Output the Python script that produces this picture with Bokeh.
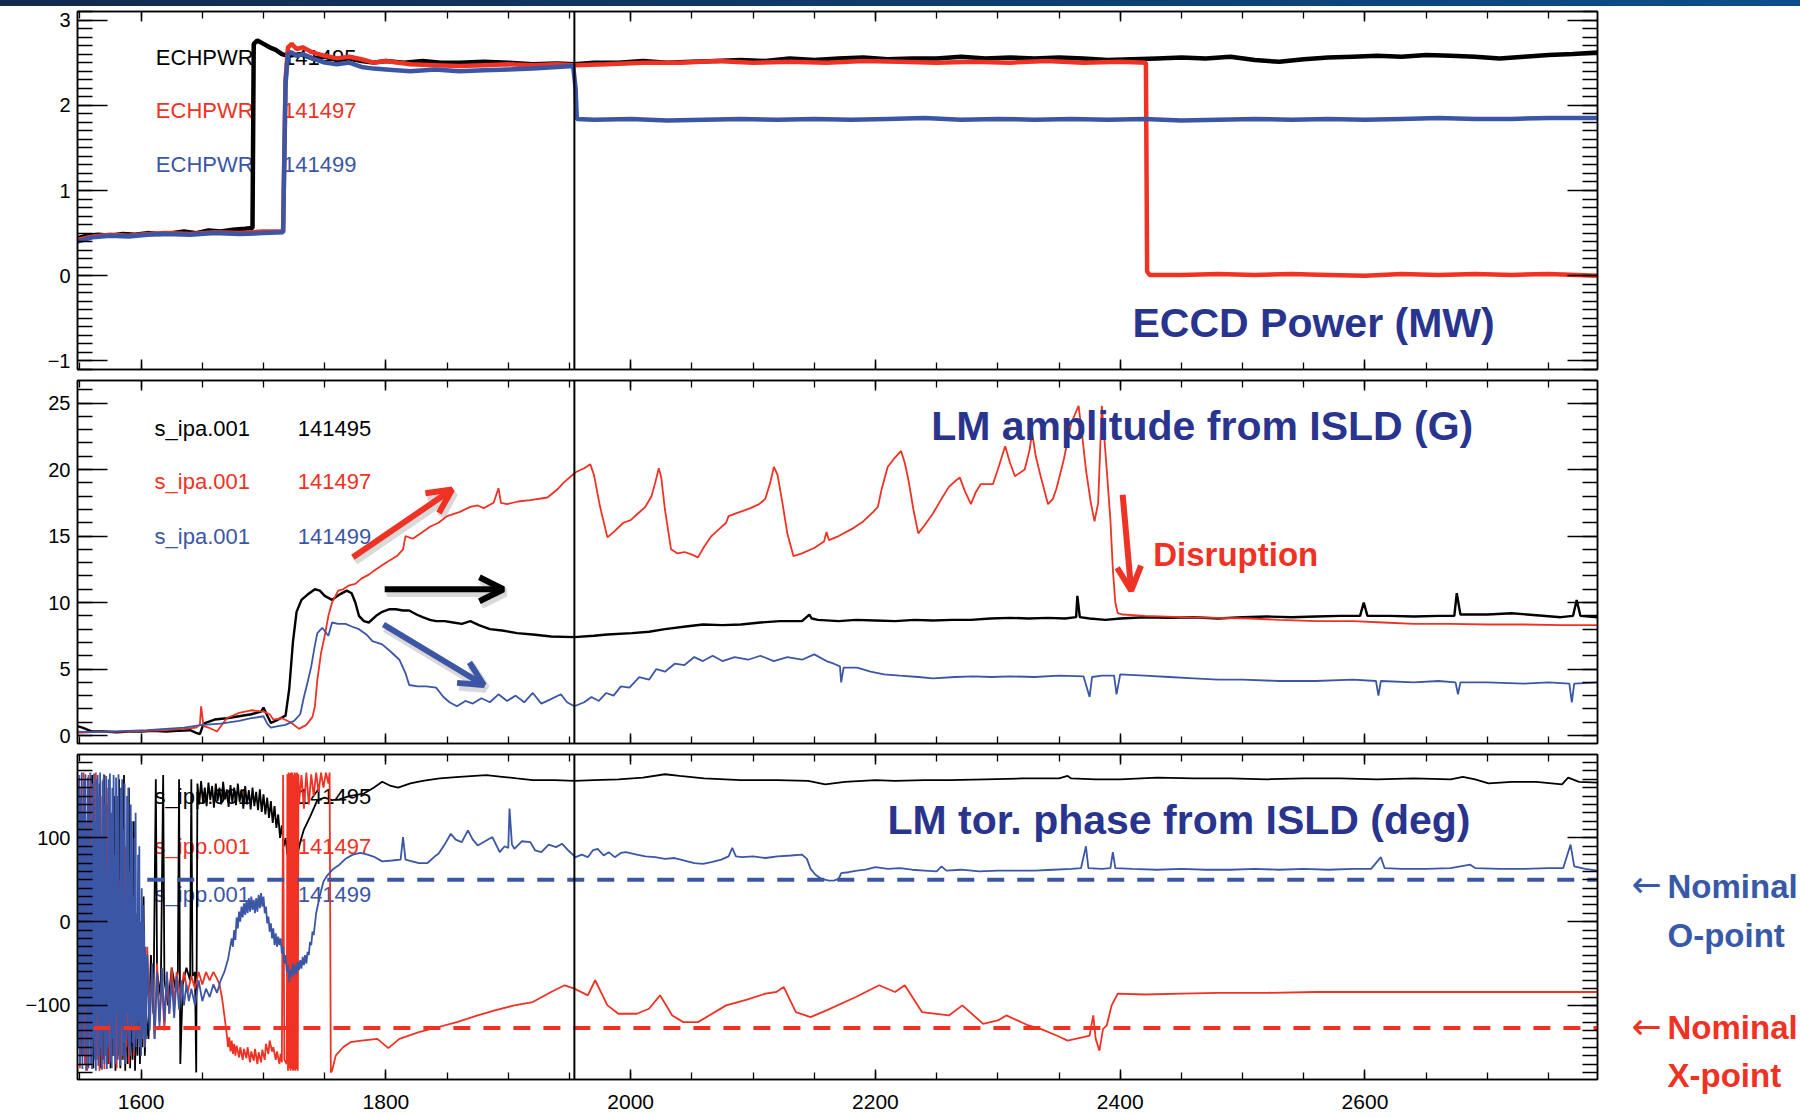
from bokeh.plotting import figure
from bokeh.models import (Range1d, LinearAxis, SingleIntervalTicker, Span, Label,
                          Arrow, OpenHead, ColumnDataSource, Div)
from bokeh.layouts import column, row
from bokeh.embed import file_html
from bokeh.resources import INLINE
from bokeh.core.properties import value

# ---------------------------------------------------------------- data
T_RANGE = (1548, 2790)          # time window (ms)
T_MARK = 1954                   # marker drawn across all panels
SHOTS = ["141495", "141497", "141499"]

# ECCD power (MW)
pwr_141495 = [(1548, 0.44), (1556, 0.47), (1565, 0.48), (1575, 0.47), (1585, 0.49), (1595, 0.48),
              (1605, 0.50), (1615, 0.49), (1625, 0.50), (1635, 0.52), (1645, 0.50), (1655, 0.53),
              (1665, 0.52), (1675, 0.54), (1685, 0.55), (1691, 0.56), (1692, 2.72), (1695, 2.76),
              (1700, 2.72), (1705, 2.68), (1710, 2.65), (1715, 2.60), (1720, 2.58), (1730, 2.60),
              (1740, 2.55), (1750, 2.57), (1760, 2.53), (1770, 2.55), (1780, 2.52), (1790, 2.50),
              (1800, 2.52), (1815, 2.50), (1830, 2.52), (1845, 2.50), (1860, 2.50), (1880, 2.51),
              (1900, 2.50), (1920, 2.48), (1940, 2.49), (1954, 2.48), (1970, 2.50), (1990, 2.50),
              (2010, 2.52), (2030, 2.50), (2050, 2.51), (2070, 2.52), (2090, 2.53), (2110, 2.52),
              (2130, 2.55), (2150, 2.53), (2170, 2.55), (2190, 2.56), (2210, 2.54), (2230, 2.55),
              (2250, 2.55), (2270, 2.57), (2290, 2.55), (2310, 2.56), (2330, 2.55), (2350, 2.56),
              (2370, 2.55), (2390, 2.53), (2410, 2.54), (2430, 2.55), (2450, 2.56), (2470, 2.55),
              (2490, 2.57), (2510, 2.53), (2530, 2.51), (2550, 2.54), (2570, 2.56), (2590, 2.57),
              (2610, 2.58), (2630, 2.57), (2650, 2.59), (2670, 2.58), (2690, 2.57), (2710, 2.55),
              (2730, 2.57), (2750, 2.59), (2770, 2.60), (2790, 2.62)]
pwr_141497 = [(1548, 0.42), (1560, 0.46), (1575, 0.48), (1590, 0.47), (1605, 0.49), (1620, 0.50),
              (1640, 0.49), (1660, 0.51), (1680, 0.50), (1700, 0.52), (1716, 0.52), (1718, 2.30),
              (1720, 2.68), (1723, 2.72), (1727, 2.66), (1732, 2.68), (1740, 2.62), (1750, 2.58),
              (1760, 2.55), (1770, 2.57), (1780, 2.54), (1790, 2.50), (1800, 2.52), (1820, 2.48),
              (1840, 2.47), (1860, 2.46), (1880, 2.47), (1900, 2.48), (1920, 2.47), (1940, 2.48),
              (1954, 2.47), (1980, 2.48), (2010, 2.50), (2040, 2.50), (2070, 2.52), (2100, 2.50),
              (2130, 2.51), (2160, 2.50), (2190, 2.52), (2220, 2.51), (2250, 2.50), (2280, 2.51),
              (2310, 2.50), (2340, 2.52), (2370, 2.50), (2400, 2.51), (2421, 2.50), (2422, 0.05),
              (2424, 0.01), (2450, 0.01), (2480, 0.02), (2510, 0.01), (2540, 0.02), (2570, 0.01),
              (2600, 0.00), (2630, 0.02), (2660, 0.01), (2690, 0.02), (2720, 0.01), (2750, 0.02),
              (2790, 0.00)]
pwr_141499 = [(1548, 0.40), (1560, 0.45), (1575, 0.47), (1590, 0.46), (1605, 0.48), (1620, 0.49),
              (1640, 0.48), (1660, 0.50), (1680, 0.49), (1700, 0.50), (1716, 0.51), (1718, 2.25),
              (1720, 2.60), (1723, 2.62), (1727, 2.58), (1732, 2.60), (1740, 2.55), (1750, 2.50),
              (1760, 2.48), (1770, 2.50), (1780, 2.45), (1790, 2.43), (1800, 2.42), (1820, 2.40),
              (1840, 2.42), (1860, 2.40), (1880, 2.41), (1900, 2.42), (1920, 2.43), (1940, 2.45),
              (1953, 2.46), (1955, 2.20), (1956, 1.84), (1970, 1.83), (2000, 1.84), (2030, 1.82),
              (2060, 1.83), (2090, 1.84), (2120, 1.83), (2150, 1.84), (2180, 1.83), (2210, 1.84),
              (2240, 1.85), (2270, 1.83), (2300, 1.84), (2330, 1.83), (2360, 1.84), (2390, 1.83),
              (2420, 1.84), (2450, 1.82), (2480, 1.83), (2510, 1.84), (2540, 1.83), (2570, 1.84),
              (2600, 1.83), (2630, 1.84), (2660, 1.85), (2690, 1.84), (2720, 1.84), (2750, 1.85),
              (2790, 1.85)]

# locked-mode amplitude from ISLD (G)
amp_141495 = [(1548, 0.7), (1552, 0.6), (1560, 0.3), (1570, 0.3), (1580, 0.25), (1590, 0.3), (1600, 0.3),
              (1610, 0.35), (1620, 0.3), (1630, 0.35), (1640, 0.4), (1645, 0.2), (1648, 0.1), (1651, 0.9),
              (1660, 1.2), (1670, 1.3), (1680, 1.45), (1690, 1.6), (1698, 1.8), (1700, 2.1), (1703, 1.5),
              (1706, 0.95), (1712, 1.2), (1718, 1.5), (1721, 3.5), (1724, 7.0), (1727, 9.3), (1731, 10.2),
              (1736, 10.6), (1742, 11.0), (1746, 10.9), (1750, 10.5), (1756, 10.2), (1762, 10.6),
              (1768, 10.9), (1772, 10.7), (1775, 10.0), (1778, 9.0), (1782, 8.6), (1786, 8.5), (1792, 9.0),
              (1797, 9.3), (1803, 9.5), (1808, 9.5), (1814, 9.4), (1819, 9.4), (1825, 9.1), (1830, 8.9),
              (1836, 8.7), (1841, 8.6), (1848, 8.6), (1855, 8.5), (1862, 8.4), (1869, 8.6), (1876, 8.3),
              (1885, 8.0), (1895, 7.9), (1907, 7.7), (1920, 7.6), (1935, 7.45), (1954, 7.4), (1970, 7.5),
              (1981, 7.6), (2001, 7.7), (2015, 7.8), (2028, 8.0), (2045, 8.2), (2059, 8.35), (2075, 8.3),
              (2090, 8.35), (2106, 8.5), (2122, 8.6), (2140, 8.6), (2146, 9.1), (2148, 8.8), (2153, 8.7),
              (2170, 8.6), (2184, 8.7), (2200, 8.65), (2216, 8.6), (2232, 8.7), (2247, 8.65), (2263, 8.7),
              (2278, 8.7), (2294, 8.8), (2310, 8.85), (2325, 8.8), (2341, 8.85), (2355, 8.8), (2364, 8.9),
              (2365, 10.5), (2367, 8.9), (2375, 8.8), (2388, 8.7), (2400, 8.8), (2420, 8.9), (2440, 8.85),
              (2460, 8.9), (2480, 8.8), (2500, 8.9), (2520, 8.95), (2540, 8.9), (2560, 8.95), (2580, 9.0),
              (2596, 9.0), (2599, 10.0), (2602, 9.0), (2620, 9.0), (2640, 8.95), (2660, 9.0), (2673, 9.0),
              (2675, 10.7), (2678, 9.1), (2700, 9.1), (2720, 9.2), (2740, 9.05), (2760, 8.9), (2770, 9.0),
              (2773, 10.2), (2776, 9.0), (2790, 8.9)]
amp_141497 = [(1548, 0.2), (1560, 0.25), (1575, 0.3), (1590, 0.3), (1605, 0.35), (1620, 0.4), (1635, 0.5),
              (1645, 0.6), (1648, 0.8), (1649, 2.2), (1651, 0.7), (1655, 0.6), (1662, 0.3), (1670, 1.3),
              (1680, 1.7), (1690, 1.9), (1700, 1.8), (1705, 1.6), (1708, 1.2), (1715, 1.3), (1722, 1.0),
              (1729, 0.5), (1735, 0.8), (1740, 1.4), (1742, 2.2), (1744, 4.2), (1747, 6.2), (1750, 7.5),
              (1753, 9.0), (1756, 10.0), (1761, 10.9), (1765, 11.0), (1770, 11.3), (1775, 11.4),
              (1780, 11.8), (1786, 12.1), (1792, 12.5), (1800, 13.0), (1809, 13.5), (1814, 14.0),
              (1816, 15.0), (1822, 14.8), (1830, 15.3), (1836, 15.7), (1843, 16.0), (1850, 16.5),
              (1860, 16.8), (1869, 17.2), (1875, 17.3), (1880, 17.1), (1888, 17.5), (1892, 18.6),
              (1894, 17.5), (1899, 17.4), (1908, 17.6), (1918, 17.7), (1932, 17.9), (1940, 18.5),
              (1945, 19.0), (1955, 19.8), (1962, 20.1), (1967, 20.4), (1970, 19.6), (1975, 17.2),
              (1981, 14.9), (1986, 15.3), (1994, 16.0), (2000, 16.2), (2006, 16.7), (2012, 17.2),
              (2017, 18.0), (2020, 19.0), (2023, 20.1), (2025, 19.4), (2028, 17.0), (2033, 14.0),
              (2038, 13.7), (2044, 13.8), (2050, 13.6), (2055, 13.4), (2060, 14.2), (2066, 15.0),
              (2072, 15.5), (2078, 16.0), (2080, 16.5), (2086, 16.7), (2098, 17.1), (2105, 17.4),
              (2110, 17.8), (2114, 19.0), (2117, 20.2), (2120, 19.6), (2124, 17.5), (2128, 15.2),
              (2133, 13.5), (2140, 13.7), (2150, 14.1), (2158, 14.6), (2160, 15.3), (2162, 14.7),
              (2170, 15.0), (2182, 15.6), (2190, 16.1), (2198, 16.8), (2202, 17.2), (2205, 18.5),
              (2210, 20.2), (2215, 20.8), (2221, 21.4), (2224, 20.5), (2227, 19.2), (2231, 17.0),
              (2235, 15.2), (2240, 15.8), (2247, 16.7), (2254, 17.8), (2260, 18.7), (2266, 19.2),
              (2269, 19.4), (2273, 18.4), (2278, 17.4), (2282, 18.3), (2286, 18.9), (2296, 18.9),
              (2300, 20.0), (2306, 21.75), (2310, 20.5), (2314, 19.5), (2322, 20.0), (2326, 21.5),
              (2328, 22.8), (2331, 21.0), (2335, 19.5), (2341, 17.4), (2345, 17.8), (2348, 18.6),
              (2354, 20.8), (2360, 23.5), (2366, 24.8), (2369, 22.5), (2372, 20.0), (2376, 17.5),
              (2379, 16.1), (2382, 17.5), (2385, 24.8), (2389, 20.0), (2392, 16.2), (2394, 12.5),
              (2396, 10.0), (2398, 9.2), (2402, 9.1), (2420, 9.0), (2450, 8.9), (2480, 8.85),
              (2506, 8.8), (2530, 8.7), (2560, 8.6), (2590, 8.6), (2615, 8.5), (2640, 8.4), (2670, 8.4),
              (2700, 8.35), (2730, 8.35), (2760, 8.3), (2790, 8.3)]
amp_141499 = [(1548, 0.3), (1560, 0.25), (1575, 0.3), (1590, 0.35), (1605, 0.4), (1620, 0.5), (1635, 0.6),
              (1650, 0.8), (1665, 0.9), (1680, 1.1), (1690, 1.3), (1700, 1.45), (1703, 0.9), (1706, 0.6),
              (1712, 0.7), (1718, 0.8), (1725, 1.1), (1730, 1.6), (1733, 2.9), (1736, 4.0), (1739, 5.2),
              (1742, 6.8), (1744, 7.7), (1748, 8.1), (1753, 7.5), (1756, 8.5), (1761, 8.4), (1767, 8.4),
              (1772, 8.2), (1778, 8.0), (1784, 7.6), (1789, 7.1), (1797, 6.85), (1804, 6.3), (1811, 5.7),
              (1816, 4.7), (1819, 3.8), (1826, 3.7), (1833, 3.7), (1841, 3.6), (1847, 2.9), (1852, 2.5),
              (1858, 2.2), (1865, 2.6), (1871, 2.4), (1878, 2.8), (1885, 2.5), (1892, 3.1), (1899, 2.6),
              (1906, 3.0), (1913, 2.5), (1920, 3.2), (1927, 2.4), (1934, 2.7), (1943, 3.1), (1948, 2.5),
              (1954, 2.2), (1962, 2.5), (1968, 2.9), (1974, 2.6), (1980, 3.2), (1986, 3.0), (1992, 3.7),
              (1999, 3.6), (2007, 4.4), (2015, 4.2), (2021, 5.0), (2028, 4.8), (2036, 5.4), (2044, 5.3),
              (2052, 5.9), (2059, 5.6), (2067, 6.0), (2075, 5.6), (2085, 5.9), (2096, 5.7), (2106, 6.0),
              (2117, 5.6), (2128, 5.9), (2140, 5.7), (2150, 6.1), (2160, 5.6), (2166, 5.4), (2171, 5.2),
              (2172, 4.0), (2174, 5.1), (2185, 5.1), (2196, 4.8), (2207, 4.6), (2220, 4.5), (2235, 4.4),
              (2247, 4.3), (2265, 4.4), (2280, 4.45), (2295, 4.4), (2310, 4.45), (2330, 4.4), (2350, 4.5),
              (2370, 4.45), (2375, 2.9), (2377, 4.4), (2385, 4.5), (2395, 4.5), (2397, 3.1), (2400, 4.6),
              (2420, 4.5), (2440, 4.4), (2460, 4.3), (2480, 4.2), (2500, 4.2), (2530, 4.1), (2560, 4.1),
              (2590, 4.2), (2609, 4.1), (2611, 3.0), (2613, 4.1), (2640, 4.0), (2660, 4.1), (2674, 4.0),
              (2676, 3.1), (2678, 4.0), (2700, 4.0), (2730, 3.9), (2750, 4.0), (2767, 3.9), (2769, 2.5),
              (2771, 3.9), (2790, 4.0)]

# locked-mode toroidal phase from ISLD (deg)
phase_141495 = [(1548, 40), (1549, -100), (1550, 150), (1551, -160), (1552, 120), (1553, -60), (1554, 170),
                (1555, -150), (1556, 100), (1557, -170), (1558, 160), (1559, -100), (1560, 175), (1561, -175),
                (1562, 120), (1563, -160), (1564, 170), (1565, -130), (1566, 165), (1567, -175), (1568, 90),
                (1569, -165), (1570, 175), (1571, -150), (1572, 140), (1573, -170), (1574, 110), (1575, -175),
                (1576, 60), (1577, -160), (1578, 150), (1579, -178), (1580, 30), (1581, -160), (1582, 170),
                (1583, -175), (1584, -20), (1585, -165), (1586, 175), (1587, -178), (1588, -60), (1589, -170),
                (1590, 160), (1591, -175), (1592, -80), (1593, -165), (1594, 120), (1595, -178), (1596, -90),
                (1597, -160), (1598, 60), (1599, -170), (1600, -100), (1601, -150), (1602, 30), (1603, -160),
                (1604, -110), (1606, -140), (1608, -40), (1610, -110), (1612, 170), (1613, -60), (1616, -90),
                (1618, 175), (1619, -70), (1622, -100), (1625, -55), (1628, -80), (1630, -60), (1631, 170),
                (1632, -170), (1634, -75), (1637, -55), (1640, -70), (1641, 170), (1642, -65), (1644, -60),
                (1645, -180), (1646, 165), (1647.5, 140), (1649, 168), (1650.5, 142), (1652, 160),
                (1653.5, 138), (1655, 166), (1656.5, 145), (1658, 162), (1659.5, 136), (1661, 165),
                (1662.5, 144), (1664, 160), (1665.5, 140), (1667, 167), (1668.5, 146), (1670, 158),
                (1671.5, 137), (1673, 163), (1674.5, 142), (1676, 160), (1677.5, 139), (1679, 165),
                (1680.5, 143), (1682, 158), (1683.5, 135), (1685, 162), (1686.5, 140), (1688, 157),
                (1689.5, 134), (1691, 160), (1692.5, 138), (1694, 155), (1695.5, 133), (1697, 158),
                (1698.5, 131), (1700, 152), (1701.5, 128), (1703, 148), (1704.5, 124), (1706, 144),
                (1707.5, 118), (1709, 138), (1710.5, 112), (1712, 128), (1713.5, 100), (1715, 115),
                (1716.5, 90), (1718, 100), (1719.5, 80), (1721, 88), (1722.5, 65), (1724, 70), (1725.5, 49),
                (1727, 75), (1730, 95), (1733, 110), (1738, 125), (1744, 145), (1750, 148),
                (1756, 145), (1762, 146), (1770, 150), (1782, 153), (1790, 160), (1797, 167), (1804, 162),
                (1810, 160), (1820, 165), (1830, 168), (1844, 171), (1860, 173), (1882, 175), (1895, 173),
                (1907, 171), (1920, 169), (1938, 169), (1954, 168), (1970, 169), (1990, 170), (2010, 172),
                (2028, 176), (2040, 174), (2060, 171), (2090, 169), (2120, 169), (2145, 168), (2159, 164),
                (2175, 167), (2200, 169), (2216, 168), (2240, 169), (2260, 169), (2290, 170), (2320, 171),
                (2350, 171), (2357, 174), (2360, 171), (2380, 170), (2400, 170), (2430, 172), (2460, 171),
                (2490, 171), (2520, 170), (2550, 171), (2580, 171), (2610, 170), (2640, 171), (2670, 170),
                (2680, 173), (2690, 170), (2701, 165), (2720, 167), (2740, 167), (2761, 164), (2766, 172),
                (2775, 167), (2790, 166)]
phase_141497 = [(1548, -20), (1549, 170), (1550, -175), (1551, 160), (1552, -160), (1553, 178), (1554, -170),
                (1555, 120), (1556, -178), (1557, 175), (1558, -140), (1559, 165), (1560, -176), (1561, 140),
                (1562, -150), (1563, 178), (1564, -165), (1565, 100), (1566, -178), (1567, 150), (1568, -120),
                (1569, 170), (1570, -176), (1571, 60), (1572, -150), (1573, 160), (1574, -170), (1575, 90),
                (1576, -130), (1577, 120), (1578, -160), (1579, 30), (1580, -175), (1581, 110), (1582, -140),
                (1583, 50), (1584, -165), (1585, 20), (1586, -120), (1587, 90), (1588, -150), (1589, -10),
                (1590, -170), (1591, 40), (1592, -130), (1593, -20), (1594, -160), (1595, 10), (1596, -140),
                (1597, -30), (1598, -120), (1599, -40), (1600, -150), (1601, -40), (1603, -150), (1605, -30),
                (1607, -110), (1609, -60), (1611, -140), (1613, -50), (1615, -120), (1617, -70), (1619, -130),
                (1621, -60), (1623, -110), (1625, -55), (1627, -100), (1629, -60), (1632, -90), (1635, -60),
                (1638, -85), (1641, -65), (1644, -80), (1647, -60), (1650, -75), (1653, -60), (1656, -70),
                (1659, -60), (1662, -68), (1664, -75), (1666, -90), (1668, -112), (1670, -135), (1671, -150),
                (1672, -138), (1673, -155), (1674, -142), (1675, -158), (1676, -146), (1677, -160),
                (1678, -148), (1680, -162), (1681, -150), (1683, -165), (1684, -152), (1686, -163),
                (1687, -150), (1689, -168), (1690, -155), (1692, -166), (1693, -152), (1695, -170),
                (1696, -156), (1698, -168), (1699, -153), (1701, -165), (1702, -146), (1704, -158),
                (1705, -142), (1707, -155), (1708, -150), (1710, -165), (1711, -155), (1713, -170),
                (1714, -158), (1715, -168), (1716, 175), (1717, -165),
                (1719, -170), (1719.5, 176), (1720, -178), (1720.5, 178), (1721, -175), (1721.5, 177),
                (1722, -178), (1722.5, 178), (1723, -176), (1723.5, 178), (1724, -178), (1724.5, 175),
                (1725, -177), (1725.5, 178), (1726, -178), (1726.5, 177), (1727, -176), (1727.5, 178),
                (1728, -178), (1728.5, 176), (1729, 140), (1731, 175), (1733, 135), (1735, 178), (1737, 140),
                (1739, 176), (1741, 150), (1743, 178), (1745, 155), (1747, 178), (1749, 160), (1751, 178),
                (1753, 165), (1754, 178), (1755, -180), (1756, -178), (1759, -160), (1765, -150),
                (1771, -144), (1780, -142), (1793, -140), (1802, -151), (1811, -140), (1827, -132),
                (1840, -127), (1858, -120), (1875, -112), (1889, -106), (1905, -100), (1920, -96),
                (1935, -84), (1946, -76), (1954, -80), (1965, -88), (1971, -70), (1981, -100), (1990, -110),
                (2005, -110), (2015, -104), (2024, -88), (2034, -112), (2043, -120), (2055, -120),
                (2078, -100), (2095, -93), (2110, -86), (2119, -84), (2125, -78), (2135, -108), (2147, -114),
                (2160, -106), (2184, -90), (2203, -76), (2216, -84), (2224, -76), (2238, -108), (2260, -112),
                (2271, -100), (2288, -122), (2300, -118), (2307, -112), (2325, -124), (2335, -128),
                (2348, -136), (2357, -142), (2370, -138), (2375, -136), (2378, -112), (2380, -140),
                (2383, -154), (2386, -128), (2389, -124), (2393, -100), (2398, -86), (2420, -87),
                (2450, -86), (2480, -85), (2520, -85), (2560, -84), (2600, -84), (2640, -84), (2680, -84),
                (2720, -84), (2760, -84), (2790, -84)]
phase_141499 = [(1548, -60), (1548.5, 160), (1549, -150), (1549.5, 175), (1550, -170), (1550.5, 150),
                (1551, -120), (1551.5, 178), (1552, -176), (1552.5, 130), (1553, -160), (1553.5, 170),
                (1554, -100), (1554.5, 176), (1555, -178), (1555.5, 110), (1556, -150), (1556.5, 172),
                (1557, -175), (1557.5, 140), (1558, -130), (1558.5, 178), (1559, -170), (1559.5, 90),
                (1560, -176), (1560.5, 165), (1561, -140), (1561.5, 177), (1562, -165), (1562.5, 120),
                (1563, -178), (1563.5, 170), (1564, -110), (1564.5, 175), (1565, -172), (1565.5, 150),
                (1566, -160), (1566.5, 178), (1567, -150), (1567.5, 100), (1568, -177), (1568.5, 168),
                (1569, -130), (1569.5, 176), (1570, -170), (1570.5, 140), (1571, -160), (1571.5, 174),
                (1572, -176), (1572.5, 60), (1573, -150), (1573.5, 170), (1574, -120), (1574.5, 177),
                (1575, -168), (1575.5, 130), (1576, -175), (1576.5, 160), (1577, -140), (1577.5, 175),
                (1578, -160), (1578.5, 80), (1579, -170), (1579.5, 172), (1580, -110), (1580.5, 150),
                (1581, -165), (1581.5, 176), (1582, -150), (1582.5, 40), (1583, -172), (1583.5, 160),
                (1584, -125), (1584.5, 170), (1585, -160), (1585.5, 110), (1586, -145), (1586.5, 165),
                (1587, -170), (1587.5, 20), (1588, -140), (1588.5, 150), (1589, -110), (1589.5, 160),
                (1590, -150), (1590.5, 60), (1591, -160), (1591.5, 140), (1592, -120), (1592.5, 120),
                (1593, -145), (1593.5, 30), (1594, -155), (1594.5, 100), (1595, -130), (1595.5, 130),
                (1596, -150), (1596.5, 10), (1597, -140), (1597.5, 80), (1598, -120), (1598.5, 90),
                (1599, -150), (1599.5, 0), (1600, -160), (1600.5, 40), (1601, -140), (1601.5, 20),
                (1602, -130), (1602.5, -10), (1603, -150), (1603.5, -30), (1604, -140), (1605, -40),
                (1607, -130), (1609, -50), (1611, -140), (1613, -60), (1615, -125), (1617, -55), (1619, -120),
                (1621, -60), (1623, -110), (1625, -70), (1627, -115), (1629, -65), (1631, -105), (1633, -70),
                (1635, -100), (1637, -75), (1639, -95), (1641, -80), (1644, -100), (1647, -70), (1650, -95),
                (1653, -80), (1656, -90), (1659, -75), (1662, -85), (1665, -70), (1668, -60), (1671, -45),
                (1674, -20), (1675, -30), (1676, -10), (1677, -22), (1678, 5), (1679, -8), (1680, 12),
                (1681, 0), (1682, 18), (1683, 5), (1684, 22), (1685, 8), (1686, 25), (1687, 10), (1688, 28),
                (1689, 12), (1690, 30), (1691, 14), (1692, 26), (1693, 10), (1694, 28), (1695, 12),
                (1696, 32), (1697, 16), (1698, 34), (1699, 18), (1700, 30), (1701, 10), (1702, 18),
                (1703, -2), (1704, 6), (1705, -12), (1706, -2), (1707, -20), (1708, -8), (1709, -28),
                (1710, -14), (1711, -30), (1712, -18), (1713, -28), (1714, -20), (1715, -38), (1716, -30),
                (1717, -50), (1718, -40), (1719, -60), (1720, -52), (1721, -72), (1722, -58), (1723, -66),
                (1724, -50), (1725, -64), (1726, -52), (1727, -62), (1728, -48), (1729, -58), (1730, -46),
                (1731, -56), (1732, -42), (1733, -52), (1734, -40), (1735, -50), (1736, -36), (1737, -40),
                (1738, -24), (1739, -28), (1740, -12), (1741, -16), (1743, 10), (1746, 31), (1749, 48),
                (1752, 55), (1757, 63), (1762, 68),
                (1767, 75), (1773, 80), (1779, 82), (1785, 80), (1791, 77), (1797, 72), (1805, 73),
                (1812, 74), (1814, 101), (1816, 74), (1819, 73), (1827, 70), (1834, 70), (1840, 78),
                (1843, 81), (1848, 92), (1853, 105), (1857, 98), (1862, 95), (1867, 109), (1871, 98),
                (1875, 91), (1881, 96), (1887, 101), (1893, 83), (1897, 90), (1900, 88), (1901, 135),
                (1903, 92), (1905, 87), (1911, 96), (1918, 95), (1922, 85), (1927, 83), (1933, 92),
                (1939, 89), (1944, 93), (1949, 85), (1955, 77), (1960, 80), (1965, 77), (1969, 85),
                (1973, 87), (1978, 79), (1982, 83), (1987, 77), (1992, 82), (1996, 83), (2005, 80),
                (2012, 78), (2020, 77), (2028, 75), (2036, 76), (2044, 73), (2052, 70), (2059, 69),
                (2066, 71), (2074, 74), (2080, 78), (2083, 88), (2086, 78), (2091, 77), (2100, 78),
                (2110, 76), (2120, 78), (2131, 79), (2140, 80), (2144, 75), (2147, 63), (2151, 56),
                (2156, 51), (2162, 49), (2166, 49), (2170, 51), (2172, 58), (2178, 59), (2185, 61),
                (2192, 62), (2200, 65), (2210, 63), (2220, 64), (2230, 62), (2240, 61), (2250, 60),
                (2254, 66), (2258, 61), (2270, 62), (2285, 60), (2300, 61), (2315, 61), (2330, 61),
                (2345, 62), (2360, 63), (2368, 64), (2372, 90), (2374, 64), (2385, 63), (2392, 64),
                (2394, 83), (2396, 64), (2410, 63), (2430, 62), (2450, 63), (2470, 62), (2490, 62),
                (2510, 63), (2530, 62), (2550, 63), (2570, 62), (2590, 63), (2605, 63), (2613, 77),
                (2616, 64), (2630, 63), (2650, 63), (2670, 64), (2686, 68), (2690, 64), (2710, 63),
                (2730, 63), (2750, 64), (2762, 64), (2768, 92), (2771, 66), (2780, 63), (2790, 61)]

# nominal island O-point / X-point phases (deg) and where their guide lines start
NOMINAL_O, NOMINAL_O_FROM = 50, 1605
NOMINAL_X, NOMINAL_X_FROM = -127, 1561

# ---------------------------------------------------------------- style
BLACK, RED, BLUE = "#000000", "#ef3224", "#3c56a6"
SHOT_COLORS = [BLACK, RED, BLUE]
NAVY = "#29348e"
NOTE_BLUE = "#3759a8"
IDL_FONT = "Liberation Sans"
BOLD_FONT = "Liberation Sans"
FRAME_W = 1520


def unzip(pairs):
    return [p[0] for p in pairs], [p[1] for p in pairs]


def panel(y0, y1, frame_h, border_top, border_bottom, y_step, y_minor,
          tick_labels_x=False, border_right=203):
    p = figure(x_range=Range1d(*T_RANGE), y_range=Range1d(y0, y1),
               frame_width=FRAME_W, frame_height=frame_h,
               min_border_left=77, min_border_right=border_right,
               min_border_top=border_top, min_border_bottom=border_bottom,
               output_backend="svg", toolbar_location=None,
               x_axis_location=None, y_axis_location=None)
    p.grid.visible = False
    p.outline_line_color = "black"
    p.outline_line_width = 1.5

    def y_axis(side, labels):
        ax = LinearAxis(ticker=SingleIntervalTicker(interval=y_step, num_minor_ticks=y_minor),
                        major_tick_in=30, major_tick_out=0, minor_tick_in=15, minor_tick_out=0,
                        axis_line_width=1.5, major_tick_line_width=1.5, minor_tick_line_width=1.3,
                        major_label_text_font=IDL_FONT, major_label_text_font_size="20px",
                        major_label_text_color="black" if labels else None,
                        major_label_standoff=7 if labels else 0,
                        major_label_overrides={-1: "\u22121", -100: "\u2212100"})
        p.add_layout(ax, side)

    def x_axis(side, labels):
        ax = LinearAxis(ticker=SingleIntervalTicker(interval=200, num_minor_ticks=4),
                        major_tick_in=10, major_tick_out=0, minor_tick_in=7, minor_tick_out=0,
                        axis_line_width=1.5, major_tick_line_width=1.5, minor_tick_line_width=1.3,
                        major_label_text_font=IDL_FONT, major_label_text_font_size="21px",
                        major_label_text_color="black" if labels else None,
                        major_label_standoff=15 if labels else 0)
        p.add_layout(ax, side)

    y_axis("left", True)
    y_axis("right", False)
    x_axis("below", tick_labels_x)
    x_axis("above", False)
    return p


def legend_text(p, name, x_name, x_shot, ys):
    src = ColumnDataSource(dict(x=[x_name] * 3, y=ys, t=[name] * 3, c=SHOT_COLORS))
    p.text(x="x", y="y", text="t", text_color="c", source=src, text_font=value(IDL_FONT),
           text_font_size="22px", text_baseline="middle")
    src2 = ColumnDataSource(dict(x=[x_shot] * 3, y=ys, t=SHOTS, c=SHOT_COLORS))
    p.text(x="x", y="y", text="t", text_color="c", source=src2, text_font=value(IDL_FONT),
           text_font_size="22px", text_baseline="middle")


def marker(p):
    p.add_layout(Span(location=T_MARK, dimension="height", line_color="black", line_width=2))


def note(p, text, x, y, size="41px", color=NAVY, align="center", font=BOLD_FONT, style="bold"):
    p.add_layout(Label(x=x, y=y, text=text, text_font=font, text_font_style=style,
                       text_font_size=size, text_color=color, text_align=align,
                       text_baseline="alphabetic"))


def pointer(p, xs, ys, xe, ye, color, shadow=False):
    if shadow:
        p.add_layout(Arrow(x_start=xs + 1.5, y_start=ys - 0.25, x_end=xe + 1.5, y_end=ye - 0.25,
                           line_color="black", line_alpha=0.15, line_width=9,
                           end=OpenHead(line_color="black", line_alpha=0.15, line_width=9, size=24)))
    p.add_layout(Arrow(x_start=xs, y_start=ys, x_end=xe, y_end=ye, line_color=color, line_width=6,
                       end=OpenHead(line_color=color, line_width=6, size=24)))


# ---------------------------------------------------------------- panel 1: ECCD power
p1 = panel(-1.1, 3.1, 358, 5, 5, 1, 10)
legend_text(p1, "ECHPWR", 1612, 1716, [2.56, 1.94, 1.31])
for series, c in zip([pwr_141495, pwr_141497, pwr_141499], SHOT_COLORS):
    t, v = unzip(series)
    p1.line(t, v, line_color=c, line_width=4.5)
marker(p1)
note(p1, "ECCD Power (MW)", 2558, -0.55)

# ---------------------------------------------------------------- panel 2: amplitude
p2 = panel(-0.6, 26.7, 363, 6, 5, 5, 5)
legend_text(p2, "s_ipa.001", 1611, 1728, [23.1, 19.1, 15.0])
for series, c, w in zip([amp_141495, amp_141497, amp_141499], SHOT_COLORS, [2.4, 1.8, 1.8]):
    t, v = unzip(series)
    p2.line(t, v, line_color=c, line_width=w)
marker(p2)
note(p2, "LM amplitude from ISLD (G)", 2467, 23.3)
note(p2, "Disruption", 2427, 13.6, size="33px", color=RED, align="left")
pointer(p2, 1773, 13.4, 1854, 18.5, RED, shadow=True)
pointer(p2, 1799, 11.0, 1896, 11.0, BLACK, shadow=True)
pointer(p2, 1798, 8.35, 1880, 3.8, BLUE, shadow=True)
pointer(p2, 2402, 18.1, 2409, 10.9, RED)

# ---------------------------------------------------------------- panel 3: toroidal phase
P3_Y = (-188.5, 199.6)
P3_BOTTOM = 38
p3 = panel(P3_Y[0], P3_Y[1], 325, 6, P3_BOTTOM, 100, 10, tick_labels_x=True, border_right=3)
legend_text(p3, "s_ipp.001", 1611, 1728, [149, 90, 33])
for series, c in zip([phase_141495, phase_141497, phase_141499], SHOT_COLORS):
    t, v = unzip(series)
    p3.line(t, v, line_color=c, line_width=1.8)
p3.segment(x0=[NOMINAL_O_FROM, NOMINAL_X_FROM], y0=[NOMINAL_O, NOMINAL_X],
           x1=[T_RANGE[1], T_RANGE[1]], y1=[NOMINAL_O, NOMINAL_X],
           line_color=[BLUE, RED], line_width=4, line_dash="17 13")
marker(p3)
note(p3, "LM tor. phase from ISLD (deg)", 2448, 121)

# side strip next to the phase panel, on the same degree scale, for the guide-line notes
deg_per_px = (P3_Y[1] - P3_Y[0]) / 325
side = figure(x_range=Range1d(0, 200), y_range=Range1d(P3_Y[0] - P3_BOTTOM * deg_per_px, P3_Y[1]),
              frame_width=200, frame_height=325 + P3_BOTTOM, min_border_left=0, min_border_right=0,
              min_border_top=6, min_border_bottom=0, output_backend="svg", toolbar_location=None,
              x_axis_location=None, y_axis_location=None)
side.grid.visible = False
side.outline_line_color = None
for y_word, y_kind, kind, col in [(42, -16, "O-point", NOTE_BLUE), (-127, -184, "X-point", RED)]:
    note(side, "\u2190", 31, y_word + 2, size="36px", color=col, align="left",
         font="DejaVu Sans", style="normal")
    note(side, "Nominal", 67, y_word, size="33px", color=col, align="left")
    note(side, kind, 67, y_kind, size="33px", color=col, align="left")

# slide header strip
band = Div(width=1800, height=6, margin=(0, 0, 0, 0), text="",
           styles={"background": "linear-gradient(90deg, #13294d 0%, #0d3f73 60%, #0a4f8c 100%)"})

layout = column(band, p1, p2, row(p3, side, spacing=0), spacing=0)
open("out.html", "w").write(file_html(layout, INLINE))
